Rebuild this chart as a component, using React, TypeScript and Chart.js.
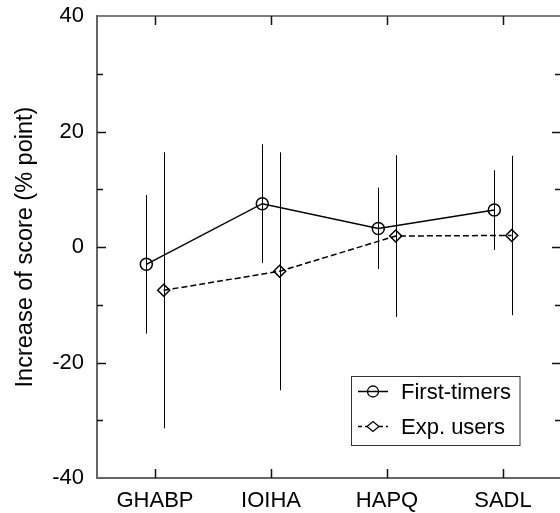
import React, { useEffect, useRef } from "react";
import { Chart, registerables } from "chart.js";

Chart.register(...registerables);

const categories = ["GHABP", "IOIHA", "HAPQ", "SADL"];
const firstTimers = [-3, 7.5, 3.2, 6.4];
const firstTimersHigh = [9.0, 17.8, 10.3, 13.3];
const firstTimersLow = [-15.0, -2.8, -3.8, -0.5];
const expUsers = [-7.5, -4.2, 1.9, 2.0];
const expUsersHigh = [16.4, 16.4, 15.9, 15.8];
const expUsersLow = [-31.4, -24.8, -12.1, -11.8];
const seriesNames = ["First-timers", "Exp. users"];
const yMin = -40;
const yMax = 40;

const FONT = "'Liberation Sans', Arial, Helvetica, sans-serif";
const OFFSET = 0.075;

const decorPlugin = {
  id: "decor",
  afterDatasetsDraw(chart: any) {
    const ctx = chart.ctx;
    const { left, right, top, bottom } = chart.chartArea;
    const xs = chart.scales.x;
    const ys = chart.scales.y;
    ctx.save();
    ctx.strokeStyle = "#555";
    ctx.lineWidth = 1.5;
    ctx.beginPath();
    ctx.moveTo(left, top);
    ctx.lineTo(right, top);
    ctx.lineTo(right, bottom);
    ctx.stroke();
    ctx.strokeStyle = "#000";
    ctx.lineWidth = 1;
    const bars = [
      { lo: firstTimersLow, hi: firstTimersHigh, off: -OFFSET },
      { lo: expUsersLow, hi: expUsersHigh, off: OFFSET },
    ];
    bars.forEach((b) => {
      categories.forEach((_, i) => {
        const x = Math.round(xs.getPixelForValue(i + b.off)) + 0.5;
        ctx.beginPath();
        ctx.moveTo(x, ys.getPixelForValue(b.hi[i]));
        ctx.lineTo(x, ys.getPixelForValue(b.lo[i]));
        ctx.stroke();
      });
    });
    ctx.strokeStyle = "#111";
    ctx.lineWidth = 1.5;
    for (let v = -30; v <= 30; v += 10) {
      const y = Math.round(ys.getPixelForValue(v)) + 0.5;
      const len = v % 20 === 0 ? 9 : 6;
      ctx.beginPath();
      ctx.moveTo(left, y);
      ctx.lineTo(left + len, y);
      ctx.moveTo(right, y);
      ctx.lineTo(right - len, y);
      ctx.stroke();
    }
    categories.forEach((_, i) => {
      const x = Math.round(xs.getPixelForValue(i)) + 0.5;
      ctx.beginPath();
      ctx.moveTo(x, top);
      ctx.lineTo(x, top + 9);
      ctx.moveTo(x, bottom);
      ctx.lineTo(x, bottom - 9);
      ctx.stroke();
    });
    const bx = right - 210;
    const by = bottom - 102;
    const bw = 168.5;
    const bh = 69;
    ctx.fillStyle = "#fff";
    ctx.fillRect(bx, by, bw, bh);
    ctx.strokeStyle = "#333";
    ctx.lineWidth = 1;
    ctx.strokeRect(Math.round(bx) + 0.5, Math.round(by) + 0.5, bw, bh);
    const rows = [
      { y: by + 15.5, dash: [] as number[], style: "circle" },
      { y: by + 50.5, dash: [4, 3], style: "rectRot" },
    ];
    rows.forEach((r, k) => {
      const lx0 = bx + 7;
      const lx1 = bx + 37;
      const mx = (lx0 + lx1) / 2;
      ctx.strokeStyle = "#000";
      ctx.lineWidth = 1.3;
      ctx.setLineDash(r.dash);
      ctx.beginPath();
      ctx.moveTo(lx0, r.y);
      ctx.lineTo(mx - 6, r.y);
      ctx.moveTo(mx + 6, r.y);
      ctx.lineTo(lx1, r.y);
      ctx.stroke();
      ctx.setLineDash([]);
      ctx.beginPath();
      if (r.style === "circle") {
        ctx.arc(mx, r.y, 5.5, 0, Math.PI * 2);
        ctx.moveTo(mx - 5.5, r.y);
        ctx.lineTo(mx + 5.5, r.y);
      } else {
        ctx.moveTo(mx - 6, r.y);
        ctx.lineTo(mx, r.y - 5);
        ctx.lineTo(mx + 6, r.y);
        ctx.lineTo(mx, r.y + 5);
        ctx.closePath();
      }
      ctx.stroke();
      ctx.fillStyle = "#000";
      ctx.font = `22px ${FONT}`;
      ctx.textBaseline = "middle";
      ctx.textAlign = "left";
      ctx.fillText(seriesNames[k], bx + 50, r.y + 1);
    });
    ctx.restore();
  },
};

export default function App() {
  const ref = useRef<HTMLCanvasElement>(null);
  useEffect(() => {
    if (!ref.current) return;
    const chart = new Chart(ref.current, {
      type: "line",
      data: {
        datasets: [
          {
            label: seriesNames[0],
            data: firstTimers.map((v, i) => ({ x: i - OFFSET, y: v })),
            borderColor: "#000",
            borderWidth: 1.5,
            pointStyle: "circle",
            pointRadius: 6,
            pointBorderWidth: 1.5,
            pointBorderColor: "#000",
            pointBackgroundColor: "rgba(0,0,0,0)",
            fill: false,
          },
          {
            label: seriesNames[1],
            data: expUsers.map((v, i) => ({ x: i + OFFSET, y: v })),
            borderColor: "#000",
            borderWidth: 1.5,
            borderDash: [6, 3],
            pointStyle: "rectRot",
            pointRadius: 6,
            pointBorderWidth: 1.5,
            pointBorderColor: "#000",
            pointBackgroundColor: "rgba(0,0,0,0)",
            fill: false,
          },
        ],
      },
      options: {
        responsive: false,
        animation: false,
        devicePixelRatio: 1,
        layout: { autoPadding: false, padding: { top: 16, right: 1, left: 0, bottom: 0 } },
        plugins: { legend: { display: false }, tooltip: { enabled: false } },
        scales: {
          x: {
            type: "linear",
            min: -0.5,
            max: 3.5,
            afterBuildTicks: (s: any) => {
              s.ticks = categories.map((_, i) => ({ value: i }));
            },
            afterFit: (s: any) => {
              s.height = 35;
              s.paddingLeft = 0;
              s.paddingRight = 0;
            },
            ticks: {
              callback: (v: any) => categories[v] ?? "",
              color: "#000",
              font: { family: FONT, size: 22 },
              padding: 10,
              maxRotation: 0,
              autoSkip: false,
            },
            grid: { display: false, drawTicks: false },
            border: { display: true, color: "#666", width: 2 },
          },
          y: {
            min: yMin,
            max: yMax,
            afterFit: (s: any) => {
              s.width = 97;
              s.paddingTop = 0;
              s.paddingBottom = 0;
            },
            ticks: {
              stepSize: 20,
              color: "#000",
              font: { family: FONT, size: 22 },
              padding: 13,
            },
            title: {
              display: true,
              text: "Increase of score (% point)",
              color: "#000",
              font: { family: FONT, size: 23.5 },
              padding: { top: 11, bottom: 0 },
            },
            grid: { display: false, drawTicks: false },
            border: { display: true, color: "#666", width: 2 },
          },
        },
      },
      plugins: [decorPlugin],
    });
    return () => chart.destroy();
  }, []);
  return (
    <div
      style={{
        position: "absolute",
        left: 0,
        top: 0,
        width: 560,
        height: 513,
        overflow: "hidden",
        background: "#fff",
      }}
    >
      <canvas ref={ref} width={562} height={513} />
    </div>
  );
}
